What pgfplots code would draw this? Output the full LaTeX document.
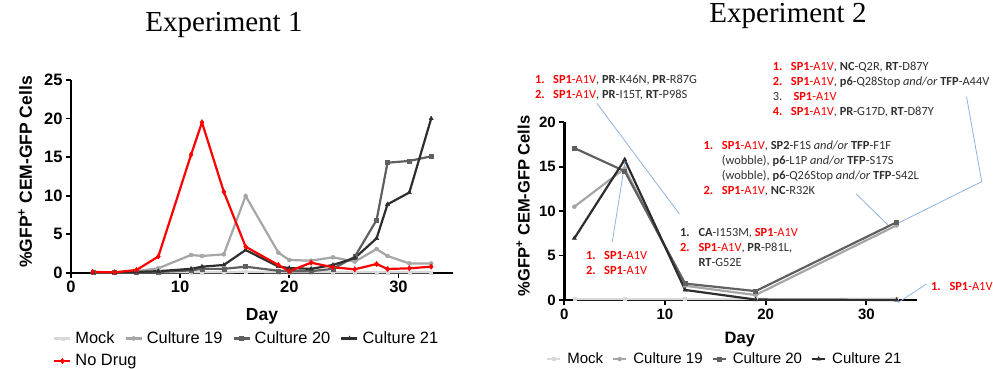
\documentclass[border=0pt]{standalone}
\usepackage{pgfplots}
\pgfplotsset{compat=1.18}
\usepackage{fontspec}
\setmainfont{Liberation Sans}
\newfontfamily\tnr{Liberation Serif}
\newfontfamily\calib{Carlito}
\definecolor{mockc}{HTML}{D9D9D9}
\definecolor{cnineteen}{HTML}{A6A6A6}
\definecolor{ctwenty}{HTML}{606060}
\definecolor{ctwentyone}{HTML}{2E2E2E}
\definecolor{nodrug}{HTML}{FF0000}
\definecolor{leadc}{HTML}{8DB3E2}
\definecolor{anntext}{HTML}{303030}
\newcommand{\SPA}{\textcolor{red}{\textbf{SP1}-A1V}}
\newcommand{\rn}[1]{\textcolor{red}{\textbf{#1}}}
\pgfplotsset{
  myax/.style={scale only axis, axis lines=left,
    axis line style={-, line width=2.4pt, black},
    tick align=outside, major tick length=5pt,
    tick style={line width=1.8pt, black},
    xtick={0,10,20,30}, xmin=0, xmax=35, ymin=0, clip=false,
    /pgf/number format/assume math mode=true,
    every axis plot/.append style={line width=2.2pt},
    legend cell align=left,
  },
  mockst/.style={color=mockc, mark=square*, mark size=1.5pt, mark options={line width=0.5pt}},
  c19st/.style={color=cnineteen, mark=*, mark size=2pt, mark options={line width=0.5pt}},
  c20st/.style={color=ctwenty, mark=square*, mark size=2pt, mark options={line width=0.5pt}},
  c21st/.style={color=ctwentyone, mark=triangle*, mark size=2.4pt, mark options={line width=0.5pt}},
  ndst/.style={color=nodrug, mark=diamond*, mark size=2.6pt, mark options={line width=0.5pt}},
}
\begin{document}
\begin{tikzpicture}[x=1pt,y=1pt]
\path[use as bounding box] (0,0) rectangle (993,368);
\node[anchor=base, font=\tnr\fontsize{29}{30}\selectfont] at (224,337) {Experiment 1};
\node[anchor=base, font=\tnr\fontsize{29}{30}\selectfont] at (788,345) {Experiment 2};

% ---------------- Experiment 1 ----------------
\begin{axis}[myax, at={(71pt,95.3pt)}, anchor=south west,
  width=382pt, height=192.7pt, ymax=25, ytick={0,5,10,15,20,25},
  ticklabel style={font=\bfseries\fontsize{16.5}{18}\selectfont},
  xlabel={Day}, ylabel={\%GFP\textsuperscript{+} CEM-GFP Cells},
  label style={font=\bfseries\fontsize{17.5}{19}\selectfont},
  xlabel style={at={(axis description cs:0.5,-0.225)}, anchor=center},
  ylabel style={at={(axis description cs:-0.12,0.523)}, anchor=center},
  legend columns=4,
  legend image code/.code={\draw[mark repeat=2,mark phase=2] plot coordinates {(0pt,0pt)(8pt,0pt)(16pt,0pt)};},
  legend style={at={(axis description cs:-0.047,-0.295)}, anchor=north west, draw=none, fill=none,
    font=\fontsize{16.4}{18}\selectfont, inner sep=0pt, row sep=5.5pt,
    nodes={inner sep=2pt},
    /tikz/every odd column/.append style={column sep=2pt},
    /tikz/every even column/.append style={column sep=8pt}},
]
\addplot[mockst] coordinates {(2,0.05)(4,0.05)(6,0.05)(8,0.05)(11,0.05)(12,0.05)(14,0.05)(16,0.1)(19,0.05)(20,0.05)(22,0.05)(24,0.05)(26,0.05)(28,0.05)(29,0.05)(31,0.05)(33,0.05)};
\addlegendentry{Mock}
\addplot[c19st] coordinates {(2,0.05)(4,0.05)(6,0.2)(8,0.57)(11,2.3)(12,2.17)(14,2.38)(16,9.95)(19,2.6)(20,1.65)(22,1.56)(24,2.0)(26,1.43)(28,3.07)(29,2.17)(31,1.2)(33,1.2)};
\addlegendentry{Culture 19}
\addplot[c20st] coordinates {(2,0.05)(4,0.05)(6,0.05)(8,0.1)(11,0.3)(12,0.5)(14,0.5)(16,0.78)(19,0.25)(20,0.2)(22,0.2)(24,0.5)(26,2.07)(28,6.84)(29,14.27)(31,14.5)(33,15.1)};
\addlegendentry{Culture 20}
\addplot[c21st] coordinates {(2,0.05)(4,0.05)(6,0.1)(8,0.2)(11,0.5)(12,0.78)(14,1.0)(16,2.94)(19,0.8)(20,0.6)(22,0.5)(24,1.0)(26,1.9)(28,4.46)(29,8.87)(31,10.4)(33,20.0)};
\addlegendentry{Culture 21}
\addplot[ndst] coordinates {(2,0.1)(4,0.05)(6,0.35)(8,2.1)(11,15.3)(12,19.5)(14,10.5)(16,3.37)(19,1.0)(20,0.2)(22,1.3)(24,0.7)(26,0.44)(28,1.13)(29,0.48)(31,0.57)(33,0.78)};
\addlegendentry{\makebox[0pt][l]{No Drug}}
\end{axis}

% ---------------- Experiment 2 ----------------
\begin{axis}[myax, at={(564.3pt,68pt)}, anchor=south west,
  width=352.4pt, height=177.7pt, ymax=20, ytick={0,5,10,15,20},
  ticklabel style={font=\bfseries\fontsize{15}{17}\selectfont},
  xlabel={Day}, ylabel={\%GFP\textsuperscript{+} CEM-GFP Cells},
  label style={font=\bfseries\fontsize{16.5}{18}\selectfont},
  xlabel style={at={(axis description cs:0.498,-0.222)}, anchor=center},
  ylabel style={at={(axis description cs:-0.117,0.529)}, anchor=center},
  legend columns=4,
  legend image code/.code={\draw[mark repeat=2,mark phase=2] plot coordinates {(0pt,0pt)(6.5pt,0pt)(13pt,0pt)};},
  legend style={at={(axis description cs:-0.052,-0.285)}, anchor=north west, draw=none, fill=none,
    font=\fontsize{15}{17}\selectfont, inner sep=0pt,
    nodes={inner sep=2pt},
    /tikz/every odd column/.append style={column sep=4pt},
    /tikz/every even column/.append style={column sep=7pt}},
]
\addplot[mockst] coordinates {(1,0.1)(6,0.1)(12,0.1)(19,0.1)(33,0.15)};
\addlegendentry{Mock}
\addplot[c19st] coordinates {(1,10.5)(6,14.8)(12,1.6)(19,0.56)(33,8.4)};
\addlegendentry{Culture 19}
\addplot[c20st] coordinates {(1,17.1)(6,14.5)(12,1.85)(19,1.0)(33,8.75)};
\addlegendentry{Culture 20}
\addplot[c21st] coordinates {(1,6.95)(6,15.8)(12,1.13)(19,0.05)(33,0.0)};
\addlegendentry{Culture 21}
% leader lines
\draw[leadc, line width=0.8pt] (axis cs:3.23,22.15) -- (axis cs:11.43,9.68);
\draw[leadc, line width=0.8pt] (axis cs:4.76,6.53) -- (axis cs:6.06,15.77);
\draw[leadc, line width=0.8pt] (axis cs:28.98,11.94) -- (axis cs:32.14,8.45);
\draw[leadc, line width=0.8pt] (axis cs:39.95,22.9) -- (axis cs:41.45,13.32) -- (axis cs:33.14,8.64);
\draw[leadc, line width=0.8pt] (axis cs:35.96,1.8) -- (axis cs:33.14,-0.3);
\end{axis}

% ---------------- annotations ----------------
\begin{scope}[every node/.style={anchor=base west, inner sep=0pt, text=anntext, font=\calib\fontsize{12.4}{14}\selectfont}]
% block A
\node at (535,285) {\rn{1.}}; \node at (553,285) {\SPA, \textbf{PR}-K46N, \textbf{PR}-R87G};
\node at (535,270) {\rn{2.}}; \node at (553,270) {\SPA, \textbf{PR}-I15T, \textbf{RT}-P98S};
% block B
\node at (772.7,298) {\rn{1.}}; \node at (790.7,298) {\SPA, \textbf{NC}-Q2R, \textbf{RT}-D87Y};
\node at (772.7,282.3) {\rn{2.}}; \node at (790.7,282.3) {\SPA, \textbf{p6}-Q28Stop \textit{and/or} \textbf{TFP}-A44V};
\node at (772.7,267.3) {3.}; \node at (793.3,267.3) {\SPA};
\node at (772.7,252.3) {\rn{4.}}; \node at (790.7,252.3) {\SPA, \textbf{PR}-G17D, \textbf{RT}-D87Y};
% block C
\node at (703.3,218.3) {\rn{1.}}; \node at (721.7,218.3) {\SPA, \textbf{SP2}-F1S \textit{and/or} \textbf{TFP}-F1F};
\node at (721.7,203.3) {(wobble), \textbf{p6}-L1P \textit{and/or} \textbf{TFP}-S17S};
\node at (721.7,188.3) {(wobble), \textbf{p6}-Q26Stop \textit{and/or} \textbf{TFP}-S42L};
\node at (703.3,173.3) {\rn{2.}}; \node at (721.7,173.3) {\SPA, \textbf{NC}-R32K};
% block D
\node at (680,132) {\textbf{1.}}; \node at (698.3,132) {\textbf{CA}-I153M, \SPA};
\node at (680,117) {\rn{2.}}; \node at (698.3,117) {\SPA, \textbf{PR}-P81L,};
\node at (698.3,102) {\textbf{RT}-G52E};
% block E
\node at (586,109) {\rn{1.}}; \node at (604,109) {\SPA};
\node at (586,94) {\rn{2.}}; \node at (604,94) {\SPA};
% block F
\node at (931,77.3) {\rn{1.}}; \node at (949.3,77.3) {\SPA};
\end{scope}
\end{tikzpicture}
\end{document}
